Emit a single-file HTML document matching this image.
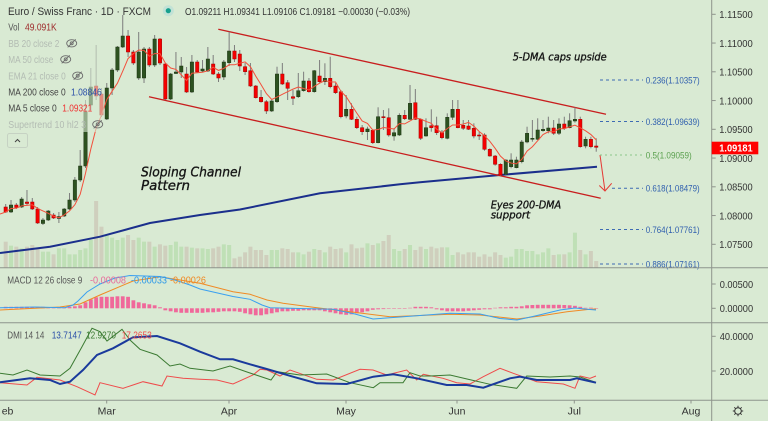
<!DOCTYPE html>
<html><head><meta charset="utf-8"><style>
html,body{margin:0;padding:0;background:#d9ead3;overflow:hidden;}
svg{display:block;font-family:"Liberation Sans",sans-serif;}
</style></head><body>
<svg id="s" width="768" height="421" viewBox="0 0 768 421" xmlns="http://www.w3.org/2000/svg">
<rect width="768" height="421" fill="#d9ead3"/>
<g id="vol"></g>
<polyline fill="none" stroke="#1b2f8c" stroke-width="2" points="0,253 50,246.7 100,236.7 150,223 200,215 240,209.5 320,193.3 400,184.3 420,182.3 500,175 597,166.7"/>
<line x1="218.3" y1="29.3" x2="606" y2="114.3" stroke="#c81e1e" stroke-width="1.3"/>
<line x1="149" y1="96.7" x2="600.7" y2="198.3" stroke="#c81e1e" stroke-width="1.3"/>
<g id="candles"></g>
<polyline id="ma5" fill="none" stroke="#f2503c" stroke-width="1" points=""/>
<!-- arrow -->
<polyline fill="none" stroke="#e53935" stroke-width="1" points="600,155 605,191"/>
<polyline fill="none" stroke="#e53935" stroke-width="1" points="599.3,185.5 605,191 611.7,183.3"/>
<!-- fib -->
<g font-size="9.5" fill="#2f5fae">
<line x1="600" y1="80" x2="643" y2="80" stroke="#3d6bb3" stroke-dasharray="3,3"/>
<text x="645.7" y="83.3" textLength="54" lengthAdjust="spacingAndGlyphs">0.236(1.10357)</text>
<line x1="600" y1="121.5" x2="643" y2="121.5" stroke="#3d6bb3" stroke-dasharray="3,3"/>
<text x="645.7" y="124.8" textLength="54" lengthAdjust="spacingAndGlyphs">0.382(1.09639)</text>
<line x1="600" y1="155" x2="643" y2="155" stroke="#8cc68a" stroke-dasharray="2,3"/>
<text x="645.7" y="158.3" textLength="46" lengthAdjust="spacingAndGlyphs" fill="#5aa04e">0.5(1.09059)</text>
<line x1="612" y1="188.3" x2="643" y2="188.3" stroke="#3d6bb3" stroke-dasharray="3,3"/>
<text x="645.7" y="191.6" textLength="54" lengthAdjust="spacingAndGlyphs">0.618(1.08479)</text>
<line x1="600" y1="229.5" x2="643" y2="229.5" stroke="#3d6bb3" stroke-dasharray="3,3"/>
<text x="645.7" y="232.8" textLength="54" lengthAdjust="spacingAndGlyphs">0.764(1.07761)</text>
<line x1="600" y1="264" x2="643" y2="264" stroke="#3d6bb3" stroke-dasharray="3,3"/>
<text x="645.7" y="267.3" textLength="54" lengthAdjust="spacingAndGlyphs">0.886(1.07161)</text>
</g>
<!-- annotations -->
<g font-family="'DejaVu Sans','Liberation Sans',sans-serif" font-style="italic" fill="#161616" stroke="#161616" stroke-width="0.35">
<text x="512.7" y="60.7" font-size="10.5" textLength="94" lengthAdjust="spacingAndGlyphs">5-DMA caps upside</text>
<text x="141" y="176.7" font-size="13.5" textLength="100" lengthAdjust="spacingAndGlyphs">Sloping Channel</text>
<text x="141" y="189.8" font-size="13.5" textLength="49" lengthAdjust="spacingAndGlyphs">Pattern</text>
<text x="490.7" y="208.3" font-size="11" textLength="70.5" lengthAdjust="spacingAndGlyphs">Eyes 200-DMA</text>
<text x="490.7" y="218.3" font-size="11" textLength="39.5" lengthAdjust="spacingAndGlyphs">support</text>
</g>
<!-- legend fade -->
<rect x="4" y="35" width="100" height="97" fill="#d9ead3" opacity="0.6"/>
<!-- legend -->
<g font-size="10.5">
<text x="8" y="15" fill="#333" font-size="11" textLength="143" lengthAdjust="spacingAndGlyphs">Euro / Swiss Franc · 1D · FXCM</text>
<circle cx="168.3" cy="10.7" r="5.5" fill="#c2e2d6"/>
<circle cx="168.3" cy="10.7" r="2.6" fill="#17a08e"/>
<text x="185" y="15" fill="#333" font-size="10" textLength="225" lengthAdjust="spacingAndGlyphs">O1.09211 H1.09341 L1.09106 C1.09181 −0.00030 (−0.03%)</text>
<text x="8.3" y="30.3" fill="#555" textLength="11" lengthAdjust="spacingAndGlyphs">Vol</text>
<text x="25" y="30.3" fill="#9e2b2b" textLength="31.7" lengthAdjust="spacingAndGlyphs">49.091K</text>
<text x="8.3" y="47" fill="#b3bcb3" textLength="51" lengthAdjust="spacingAndGlyphs">BB 20 close 2</text>
<text x="8.3" y="63" fill="#b3bcb3" textLength="45" lengthAdjust="spacingAndGlyphs">MA 50 close</text>
<text x="8.3" y="79.3" fill="#b3bcb3" textLength="57.4" lengthAdjust="spacingAndGlyphs">EMA 21 close 0</text>
<text x="8.3" y="95.3" fill="#444" textLength="57.4" lengthAdjust="spacingAndGlyphs">MA 200 close 0</text>
<text x="71" y="95.3" fill="#2a4fa8" textLength="30.7" lengthAdjust="spacingAndGlyphs">1.08846</text>
<text x="8.3" y="111.3" fill="#444" textLength="48.4" lengthAdjust="spacingAndGlyphs">MA 5 close 0</text>
<text x="62.3" y="111.3" fill="#f03030" textLength="30" lengthAdjust="spacingAndGlyphs">1.09321</text>
<text x="8.3" y="128" fill="#b3bcb3" textLength="77.7" lengthAdjust="spacingAndGlyphs">Supertrend 10 hl2 3</text>
</g>
<g id="eyes" fill="none" stroke="#6d6d6d" stroke-width="0.9"></g>
<rect x="7.5" y="133.5" width="20" height="14" rx="2" fill="none" stroke="#c6d2c3"/>
<polyline points="15,142 17.5,139.5 20,142" fill="none" stroke="#444" stroke-width="1"/>
<!-- MACD -->
<g id="hist"></g>
<polyline fill="none" stroke="#f08a24" stroke-width="1" points="0,310 60,307 80,304 100,295 133,281 160,276.7 180,280 200,283.3 233,291.7 250,294.3 267,300 283,303.3 317,307.7 350,311.7 390,316.7 450,314.3 480,315 517,319 540,316 567,311.7 590,309.3 596,309"/>
<polyline fill="none" stroke="#3aa0f0" stroke-width="1" points="0,307.7 35,307 65,307.7 73,305 78,301 87,292 100,284 115,278 130,275.5 160,276.5 175,280 190,285 200,289 233,296.5 250,299.3 262,305 270,307.7 300,308.5 333,309.3 355,314 373,319 400,317 450,313.3 480,314 500,318.5 517,320 535,316 560,310 575,308 590,309.5 596,310"/>
<g font-size="10.5">
<text x="7.3" y="283.5" fill="#555" textLength="75" lengthAdjust="spacingAndGlyphs">MACD 12 26 close 9</text>
<text x="90" y="283.5" fill="#e86a9a" textLength="36" lengthAdjust="spacingAndGlyphs">-0.00008</text>
<text x="131" y="283.5" fill="#2f9ae8" textLength="36" lengthAdjust="spacingAndGlyphs">-0.00033</text>
<text x="170" y="283.5" fill="#f08a24" textLength="36" lengthAdjust="spacingAndGlyphs">-0.00026</text>
</g>
<!-- DMI -->
<polyline fill="none" stroke="#ef4b4b" stroke-width="1" points="0,382.7 27,385 37,377.3 60,380 77,386.7 95,395 100,382.7 123,388.3 133,385 143,381.7 162,386 167,376 183,378.3 200,379.3 217,380 233,384 253,375 260,369.3 267,370 280,376 290,370 316.7,379.3 333.3,380 360,369.3 373,370 386.7,375 406.7,370 416.7,380 423.3,374.3 443,378.3 456.7,382.7 470,384 483.3,376.7 500,368.3 513.3,373.3 536.7,381.7 563.3,384 575,388.3 580,376 590,378.3 596,376"/>
<polyline fill="none" stroke="#3b7a32" stroke-width="1" points="0,373.3 13,375 27,370 40,375 60,376 70,368.3 82,346.7 92,328.3 100,331.7 107,341 122,329.3 130,340 140,349.3 157,355 170,366 180,364 190,368.3 213,371 230,366 247,372 271,380 277,371.7 300,375 326.7,374 350,382.7 373.3,387.7 380,382.7 403,382.7 410,372.7 420,376 430,376 450,375 467,379 490,384.3 516.7,388.3 526.7,376 550,377 570,376 580,377 596,382.3"/>
<polyline fill="none" stroke="#1a3a9c" stroke-width="2" points="0,382.3 30,378.3 50,380 60,384 70,381.7 83,370 97,355 113,348.3 133,337.3 157,336 180,343.3 200,351.7 220,359.3 233,359.3 250,364.3 266.7,369 293,376.7 316.7,383.3 346.7,384 373.3,376.7 393.3,374.3 416.7,378.3 446.7,385 466.7,385 483.3,387.7 510,378.3 520,376.7 536.7,380 570,380 576.7,378.3 596,382.7"/>
<g font-size="10.5">
<text x="7.3" y="338.5" fill="#555" textLength="37" lengthAdjust="spacingAndGlyphs">DMI 14 14</text>
<text x="51.7" y="338.5" fill="#2a4fa8" textLength="30" lengthAdjust="spacingAndGlyphs">13.7147</text>
<text x="86" y="338.5" fill="#3b7a32" textLength="30" lengthAdjust="spacingAndGlyphs">12.9270</text>
<text x="121.7" y="338.5" fill="#ef4b4b" textLength="30" lengthAdjust="spacingAndGlyphs">17.2653</text>
</g>
<!-- separators & axes -->
<g stroke="#8e948c" stroke-width="1">
<line x1="0" y1="267.7" x2="768" y2="267.7"/>
<line x1="0" y1="322.7" x2="768" y2="322.7"/>
<line x1="0" y1="400.2" x2="768" y2="400.2"/>
<line x1="711.7" y1="0" x2="711.7" y2="421"/>
</g>
<g id="ticks" stroke="#8e948c" stroke-width="1"></g>
<g font-size="10.5" fill="#333">
<text x="719.3" y="18" textLength="33.4" lengthAdjust="spacingAndGlyphs">1.11500</text>
<text x="719.3" y="46.8" textLength="33.4" lengthAdjust="spacingAndGlyphs">1.11000</text>
<text x="719.3" y="75.6" textLength="33.4" lengthAdjust="spacingAndGlyphs">1.10500</text>
<text x="719.3" y="104.3" textLength="33.4" lengthAdjust="spacingAndGlyphs">1.10000</text>
<text x="719.3" y="133.1" textLength="33.4" lengthAdjust="spacingAndGlyphs">1.09500</text>
<text x="719.3" y="161.8" textLength="33.4" lengthAdjust="spacingAndGlyphs">1.09000</text>
<text x="719.3" y="190.6" textLength="33.4" lengthAdjust="spacingAndGlyphs">1.08500</text>
<text x="719.3" y="219.3" textLength="33.4" lengthAdjust="spacingAndGlyphs">1.08000</text>
<text x="719.3" y="248.1" textLength="33.4" lengthAdjust="spacingAndGlyphs">1.07500</text>
<text x="719.7" y="287.8" textLength="33.4" lengthAdjust="spacingAndGlyphs">0.00500</text>
<text x="719.7" y="312.1" textLength="33.4" lengthAdjust="spacingAndGlyphs">0.00000</text>
<text x="719.7" y="340.1" textLength="33.4" lengthAdjust="spacingAndGlyphs">40.0000</text>
<text x="719.7" y="374.8" textLength="33.4" lengthAdjust="spacingAndGlyphs">20.0000</text>
<text x="1.7" y="414.5">eb</text>
<text x="106.7" y="414.5" text-anchor="middle">Mar</text>
<text x="229" y="414.5" text-anchor="middle">Apr</text>
<text x="346" y="414.5" text-anchor="middle">May</text>
<text x="457" y="414.5" text-anchor="middle">Jun</text>
<text x="574.3" y="414.5" text-anchor="middle">Jul</text>
<text x="691" y="414.5" text-anchor="middle">Aug</text>
</g>
<rect x="711.7" y="141.7" width="46.6" height="12.6" fill="#ff0000"/>
<text x="719.3" y="151.6" font-size="10.5" font-weight="bold" fill="#fff" textLength="33.4" lengthAdjust="spacingAndGlyphs">1.09181</text>
<g id="gear" stroke="#333" stroke-width="1" fill="none"><circle cx="738" cy="411" r="3.3"/></g>
</svg>
<script>
(function(){
var NS="http://www.w3.org/2000/svg";
function el(t,a,p){var e=document.createElementNS(NS,t);for(var k in a)e.setAttribute(k,a[k]);p.appendChild(e);return e;}
var C=[
['r',207,212,204,213],['g',205,212,200,213],['r',205,207.5,203,209],['g',199,207,197,208],['r',202,203.5,190,205],
['r',202,209,198,210],['r',209,223,207,224],['g',220,223.5,218,225],['g',211,220,210,221],['r',215,218,213,219],
['g',216.5,218.5,212,223],['g',209,216,208,217],['g',200,209,193,210],['g',180,200,177,202],['g',166,180,150,182],
['g',112,166,100,168],['g',87,105,68,110],['r',86,96,45,100],['r',94,115,88,117],['g',88,119,83,120],
['g',70,88,68,95],['g',47,70,46,72],['g',36,47,15,48],['r',36,52,30,57],['r',52,63,50,65],
['g',52,78,32,80],['g',49,78,47,83],['r',49,65,47,67],['g',39,65,35,67],['r',39,63,38,65],
['r',64,99,63,100],['g',74,99,73,100],['g',72,73.5,52,74],['g',66,72,57,78],['r',74,92,67,93],
['g',62,92,55,93],['r',62,72,60,73],['g',69,71,60,72],['g',59,71,47,72],['r',64,74,55,75],
['r',74,78,72,82],['g',62,77,60,80],['g',51,62.7,31.7,66],['r',51,59,45,62],['r',54,66,50,71],
['r',66.7,71.7,63,75],['r',70.7,86,63,87],['r',86,97.7,85,98.5],['r',97.3,101.7,90,102.7],['r',101.7,111,100,114],
['g',101,111,100,112],['g',74,101.7,66.7,103],['r',74,84,63,85],['r',82.7,88.3,80,100],['r',96.7,98.3,90,105],
['g',90.7,96.7,73,98],['g',81,90.7,71.7,91.7],['r',81,91.7,78,92.7],['g',70.7,91.7,70,92.7],['r',76,81.7,60,82.7],
['g',78.3,81.7,63.3,85],['r',78.3,86.7,56.7,88.3],['r',86,92.7,83,94],['r',91.7,116.7,90,118.3],['g',109.3,116,95,118.3],
['r',109.3,119.3,103.3,120],['r',119.3,127.7,116.7,129],['r',127.7,131.7,125,135],['g',129,131.7,126.7,140],['r',130.3,142.7,129.3,144],
['g',116.7,142.7,107.3,143.3],['r',116.7,117.7,110,130],['r',117.7,135,108.3,136.7],['g',132.7,136,128.3,140.7],['g',115.3,135,113.3,136],
['r',115.3,118.7,110,120],['g',103.3,119.3,85,120],['r',102.7,119.3,89,120],['r',119.3,138.3,118.3,140],['g',127.7,136,118.3,136.7],
['r',125.7,127.7,109.3,131.7],['r',125.7,132.7,116.7,135],['r',132.7,137.7,130,139.3],['g',117.3,138.3,113.3,139.3],['g',109.3,117.3,100,120],
['r',109.3,127.7,100,128.3],['r',125.3,128.3,120,130],['r',126,129.3,120,130],['r',128.3,136,123.3,138.3],['r',135,136,132,140],
['r',135,149.3,133.3,150.7],['r',149.3,156,148.3,156.7],['r',156,164.3,155,165.7],['r',164.3,175,163.3,175.7],['g',160,174.3,159.3,175],
['g',160,166.7,153.3,168.3],['g',160,167.7,156.7,168.3],['g',142,161.7,140,163.3],['g',133.3,142,126.7,143.3],['g',138.3,139.3,120,141.7],
['g',130,139.3,118.3,140],['g',129.3,130.7,120,131.7],['g',128,130.7,116.7,133.3],['r',128,133.3,120,135],['g',124,133.3,118.3,135],
['r',124,128.3,116.7,130],['g',120.7,127.7,113.3,128.3],['g',119.3,121,107.3,122.7],['r',119.3,146.7,116.7,147.7],['g',139.3,146,136.7,148.3],
['r',139.3,146.7,136.7,148.3],['r',146,147.3,138.3,151.7]
];
var V=[140,152,155,160,155,150,158,170,170,178,160,160,178,178,165,160,135,18,95,122,128,135,128,120,135,128,140,140,155,148,152,150,140,155,155,158,160,160,162,160,155,148,150,190,185,172,155,165,165,180,165,165,160,162,172,172,
178,170,162,165,172,155,162,160,172,148,160,158,145,150,145,138,120,162,168,162,150,165,155,162,155,160,157,157,180,172,178,172,172,185,178,185,172,180,188,185,162,162,168,168,178,172,160,180,178,178,172,113,165,178,168,198];
var H=[1.5,1.5,1.5,1.5,1.5,1.5,1.5,1.5, 1,1,1,1,1.5,
2,3,6,9,11,11.5,11.5,11.5,12,12,11.5,8,6,5,4,3,1,-2,
-3,-4,-4.5,-4.5,-4.5,-4.5,-4.5,-4,-4,-3.5,-3,-3,-3,-3.5,-5,-6,-7,-7,-6,-5,-4,-3,-3,-2.5,-2.5,
-2,-2,-2,-2,-3,-4,-5,-6,-6.5,-6,-5,-4,-3,
-1.5,-1,-0.8,-0.5,-0.5,-0.5,-0.5,0.5,
1.5,1.5,1.5,1,
-1,-2,-3,-3,-3,-3,-2.5,-2,-1.5,-1,-1,
0.5,1,1,1.5,1.5,
2,3,3.3,3.5,3.5,3.5,3.5,3.5,3.3,3,
2.5,1.5,0.5,0,-0.5];
var vg=document.getElementById('vol'),cg=document.getElementById('candles'),hg=document.getElementById('hist');
var closes=[];
for(var i=0;i<C.length;i++){
 var x=5.7+i*5.32,c=C[i],up=c[0]=='g';
 closes.push(up?c[1]:c[2]);
 if(i<V.length){var vy=195+V[i]/3;el('rect',{x:(x-2).toFixed(2),y:vy.toFixed(2),width:4,height:(267.7-vy).toFixed(2),fill:up?'#bfe0b6':'#cfcfbd'},vg);}
 el('line',{x1:x.toFixed(2),y1:c[3],x2:x.toFixed(2),y2:c[4],stroke:'#7c7c7c','stroke-width':1},cg);
 var h=Math.max(c[2]-c[1],1);
 el('rect',{x:(x-1.7).toFixed(2),y:c[1],width:3.4,height:h,fill:up?'#2d5220':'#f50000',stroke:up?'#1c3412':'#a00000','stroke-width':0.5},cg);
 if(i<H.length){var hv=H[i];if(Math.abs(hv)<0.4)hv=hv<0?-0.6:0.6;
  el('rect',{x:(x-1.9).toFixed(2),y:(hv>0?308.3-hv:308.3).toFixed(2),width:3.8,height:Math.abs(hv).toFixed(2),fill:'#f0689a'},hg);}
}
var pts=[];
for(var i=0;i<closes.length;i++){var s=0,n=0;for(var j=Math.max(0,i-4);j<=i;j++){s+=closes[j];n++;}pts.push((5.7+i*5.32).toFixed(2)+','+(s/n).toFixed(2));}
pts.unshift('0,'+(closes[0]+2).toFixed(2));
document.getElementById('ma5').setAttribute('points',pts.join(' '));
var eg=document.getElementById('eyes');
[[71.7,43.3],[65.7,59.3],[77.7,75.7],[97.7,124.3]].forEach(function(p){
 el('ellipse',{cx:p[0],cy:p[1],rx:5,ry:3.6},eg);
 el('circle',{cx:p[0],cy:p[1],r:1.5},eg);
 el('line',{x1:p[0]-4,y1:p[1]+4,x2:p[0]+4,y2:p[1]-4},eg);
});
var tg=document.getElementById('ticks');
[14.3,43.05,71.8,100.55,129.3,158.05,186.8,215.55,244.3,284,308.3,336.3,371].forEach(function(y){el('line',{x1:711.7,y1:y,x2:715.7,y2:y},tg);});
[106.7,229,346,457,574.3,691].forEach(function(x){el('line',{x1:x,y1:400.2,x2:x,y2:403.5},tg);});
var gg=document.getElementById('gear');
for(var k=0;k<8;k++){var a=k*Math.PI/4;el('line',{x1:(738+3.3*Math.cos(a)).toFixed(2),y1:(411+3.3*Math.sin(a)).toFixed(2),x2:(738+5.2*Math.cos(a)).toFixed(2),y2:(411+5.2*Math.sin(a)).toFixed(2)},gg);}
})();
</script>
</body></html>
